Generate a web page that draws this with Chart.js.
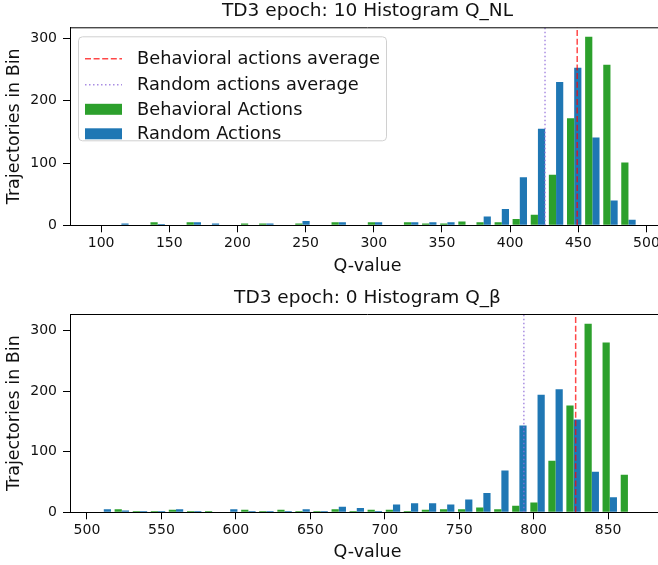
<!DOCTYPE html>
<html>
<head>
<meta charset="utf-8">
<script src="https://cdn.jsdelivr.net/npm/chart.js@4.4.0/dist/chart.umd.min.js"></script>
<style>
  html, body { margin: 0; padding: 0; background: #fff; overflow: hidden; }
  #wrap { position: relative; width: 658px; height: 565px; overflow: hidden; }
  canvas { position: absolute; left: 0; }
</style>
</head>
<body>
<div id="wrap">
  <canvas id="top-chart" width="735" height="283" style="top:0"></canvas>
  <canvas id="bottom-chart" width="735" height="282" style="top:283px"></canvas>
</div>
<script>
// epoch 10, Q_NL: bin centers and counts
const topBins = [101.6, 114.9, 128.2, 141.5, 154.8, 168.0, 181.3, 194.6, 207.9, 221.2,
                 234.5, 247.7, 261.0, 274.3, 287.6, 300.9, 314.2, 327.4, 340.7, 354.0,
                 367.3, 380.6, 393.9, 407.1, 420.4, 433.7, 447.0, 460.3, 473.6, 486.8];
const topBehavioral = [1, 1, 0, 5, 1, 5, 1, 1, 3, 3, 1, 3, 1, 5, 1, 5, 1, 5, 3, 3,
                       6, 5, 5, 10, 17, 81, 172, 303, 258, 101];
const topRandom = [1, 3, 1, 2, 1, 5, 3, 1, 1, 3, 1, 7, 1, 5, 1, 5, 1, 5, 5, 5,
                   1, 14, 26, 77, 155, 230, 253, 141, 40, 9];
const topBehavioralAvg = 449.2;
const topRandomAvg = 425.6;
const topXTicks = [100, 150, 200, 250, 300, 350, 400, 450, 500];

// epoch 0, Q_beta
const bottomBins = [511.3, 523.4, 535.6, 547.7, 559.8, 572.0, 584.1, 596.2, 608.4, 620.5,
                    632.7, 644.8, 656.9, 669.1, 681.2, 693.3, 705.5, 717.6, 729.7, 741.9,
                    754.0, 766.2, 778.3, 790.4, 802.6, 814.7, 826.8, 839.0, 851.1, 863.3];
const bottomBehavioral = [1, 5, 2, 2, 4, 2, 2, 0, 4, 2, 4, 2, 2, 5, 2, 4, 4, 2, 4, 5,
                          5, 8, 5, 11, 16, 85, 176, 311, 280, 62];
const bottomRandom = [5, 3, 2, 2, 5, 2, 0, 5, 2, 2, 2, 5, 2, 9, 7, 2, 13, 15, 15, 13,
                      21, 32, 69, 143, 194, 203, 153, 67, 25, 0];
const bottomBehavioralAvg = 828.2;
const bottomRandomAvg = 793.4;
const bottomXTicks = [500, 550, 600, 650, 700, 750, 800, 850];

const yTicks = [0, 100, 200, 300];

Chart.defaults.font.family = '"DejaVu Sans", sans-serif';
Chart.defaults.color = '#111';

// top spine (right one is off the picture) and the in-axes legend
const frameAndLegend = {
  id: 'frameAndLegend',
  afterDraw(chart) {
    const ctx = chart.ctx;
    const a = chart.chartArea;
    ctx.save();
    ctx.strokeStyle = '#000';
    ctx.lineWidth = 1;
    ctx.beginPath();
    ctx.moveTo(a.left, a.top + 0.5);
    ctx.lineTo(a.right, a.top + 0.5);
    ctx.stroke();

    if (chart.options.plugins.frameAndLegend.legend) {
      const x0 = a.left + 8, y0 = a.top + 9, w = 308, h = 104;
      ctx.fillStyle = 'rgba(255,255,255,0.8)';
      ctx.strokeStyle = '#d0d0d0';
      ctx.beginPath();
      ctx.roundRect(x0 + 0.5, y0 + 0.5, w, h, 4);
      ctx.fill();
      ctx.stroke();
      const rows = [22.5, 48.5, 73, 97.5];
      chart.data.datasets.forEach((ds, i) => {
        const y = y0 + rows[i];
        const hx = x0 + 7;
        if (ds.type === 'line') {
          ctx.strokeStyle = ds.borderColor;
          ctx.lineWidth = ds.borderWidth;
          ctx.setLineDash(ds.borderDash);
          ctx.beginPath();
          ctx.moveTo(hx, y);
          ctx.lineTo(hx + 37, y);
          ctx.stroke();
          ctx.setLineDash([]);
        } else {
          ctx.fillStyle = ds.backgroundColor;
          ctx.fillRect(hx, y - 5.5, 37, 11);
        }
        ctx.fillStyle = '#111';
        ctx.font = '17.8px "DejaVu Sans"';
        ctx.textBaseline = 'middle';
        ctx.fillText(ds.label, x0 + 59, y + 1);
      });
    }
    ctx.restore();
  }
};

function histChart(id, c) {
  return new Chart(document.getElementById(id), {
    type: 'bar',
    data: {
      datasets: [
        {
          type: 'line', label: 'Behavioral actions average', order: 0,
          data: [{x: c.behavAvg, y: 0}, {x: c.behavAvg, y: c.yMax}],
          borderColor: 'rgba(255,0,0,0.72)', borderWidth: 1.5, borderDash: [6, 2.6], pointRadius: 0
        },
        {
          type: 'line', label: 'Random actions average', order: 0,
          data: [{x: c.randAvg, y: 0}, {x: c.randAvg, y: c.yMax}],
          borderColor: 'rgba(147,112,219,0.8)', borderWidth: 1.5, borderDash: [1.5, 2.5], pointRadius: 0
        },
        {
          label: 'Behavioral Actions', order: 1,
          data: c.bins.map((x, i) => ({x: x, y: c.behav[i]})),
          backgroundColor: '#2ca02c', categoryPercentage: 0.8, barPercentage: 1
        },
        {
          label: 'Random Actions', order: 1,
          data: c.bins.map((x, i) => ({x: x, y: c.rand[i]})),
          backgroundColor: '#1f77b4', categoryPercentage: 0.8, barPercentage: 1
        }
      ]
    },
    options: {
      responsive: false,
      animation: false,
      layout: { padding: 0 },
      plugins: {
        legend: { display: false },
        tooltip: { enabled: false },
        title: {
          display: true, text: c.title, color: '#111',
          font: { size: 18.5, weight: 'normal' },
          padding: c.titlePad
        },
        frameAndLegend: { legend: c.legend }
      },
      scales: {
        x: {
          type: 'linear', min: c.xMin, max: c.xMax, offset: false,
          grid: { offset: false, drawOnChartArea: false, tickLength: 7, color: '#000' },
          border: { color: '#000', width: 1 },
          ticks: { font: { size: 14 }, color: '#111', padding: 3, maxRotation: 0, autoSkip: false },
          afterBuildTicks: s => { s.ticks = c.xTicks.map(v => ({value: v})); },
          afterFit: s => { s.height = c.xAxisH; },
          title: { display: true, text: 'Q-value', font: { size: 17.5 }, color: '#111',
                   padding: { top: 0, bottom: c.xTitlePad } }
        },
        y: {
          min: 0, max: c.yMax,
          grid: { drawOnChartArea: false, tickLength: 7, color: '#000' },
          border: { color: '#000', width: 1 },
          ticks: { font: { size: 14 }, color: '#111', padding: 6 },
          afterBuildTicks: s => { s.ticks = yTicks.map(v => ({value: v})); },
          afterFit: s => { s.width = 70; },
          title: { display: true, text: 'Trajectories in Bin', font: { size: 17.5 }, color: '#111',
                   padding: { top: 4, bottom: 0 } }
        },
        r: {
          type: 'linear', axis: 'y', position: 'right', display: true,
          grid: { display: false }, ticks: { display: false }, border: { display: false },
          afterFit: s => { s.width = 70; }
        }
      }
    },
    plugins: [frameAndLegend]
  });
}

histChart('top-chart', {
  title: 'TD3 epoch: 10 Histogram Q_NL',
  bins: topBins, behav: topBehavioral, rand: topRandom,
  behavAvg: topBehavioralAvg, randAvg: topRandomAvg,
  xTicks: topXTicks, xMin: 77.2, xMax: 513.6, yMax: 318,
  titlePad: { top: 0.2, bottom: 4.9 }, xAxisH: 57.7, xTitlePad: 6.5,
  legend: true
});

histChart('bottom-chart', {
  title: 'TD3 epoch: 0 Histogram Q_β',
  bins: bottomBins, behav: bottomBehavioral, rand: bottomRandom,
  behavAvg: bottomBehavioralAvg, randAvg: bottomRandomAvg,
  xTicks: bottomXTicks, xMin: 488.6, xMax: 888.2, yMax: 327,
  titlePad: { top: 3.9, bottom: 4.9 }, xAxisH: 52.7, xTitlePad: 2.5,
  legend: false
});
</script>
</body>
</html>
